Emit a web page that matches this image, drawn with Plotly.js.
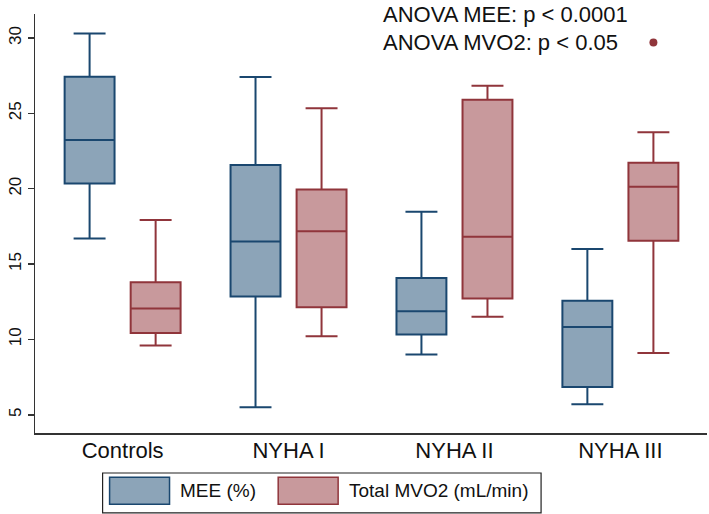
<!DOCTYPE html>
<html>
<head>
<meta charset="utf-8">
<script src="https://cdn.plot.ly/plotly-3.0.1.min.js"></script>
<style>html,body{margin:0;padding:0;background:#fff;}#chart{width:709px;height:514px;}</style>
</head>
<body>
<div id="chart"></div>
<script>
// Categories
var categories = ["Controls", "NYHA I", "NYHA II", "NYHA III"];
var seriesNames = ["MEE (%)", "Total MVO2 (mL/min)"];

// MEE (%) box statistics
var meeLower  = [16.7, 5.5, 9.0, 5.7];
var meeQ1     = [20.35, 12.85, 10.32, 6.85];
var meeMedian = [23.23, 16.5, 11.87, 10.83];
var meeQ3     = [27.43, 21.57, 14.08, 12.56];
var meeUpper  = [30.3, 27.41, 18.47, 15.99];

// Total MVO2 (mL/min) box statistics
var mvoLower  = [9.6, 10.21, 11.5, 9.1];
var mvoQ1     = [10.43, 12.14, 12.72, 16.54];
var mvoMedian = [12.05, 17.18, 16.81, 20.13];
var mvoQ3     = [13.8, 19.95, 25.9, 21.72];
var mvoUpper  = [17.92, 25.33, 26.83, 23.74];
// outside values (outliers) per category
var mvoOutliers = [[], [], [], [29.7]];

var yTicks = [5, 10, 15, 20, 25, 30];

var annotationTexts = ["ANOVA MEE: p < 0.0001", "ANOVA MVO2: p < 0.05"];

var blueLine = "#1A476F", blueFill = "#8CA4B8";
var redLine = "#90353B", redFill = "#C8999C";

// sample points per box: the median plus any outside values (only outside values are drawn)
var mvoSamples = mvoMedian.map(function (m, i) { return [m].concat(mvoOutliers[i]); });

var traces = [
  {
    type: "box", name: seriesNames[0], x: categories,
    lowerfence: meeLower, q1: meeQ1, median: meeMedian, q3: meeQ3, upperfence: meeUpper,
    fillcolor: blueFill, line: {color: blueLine, width: 2}, whiskerwidth: 0.64,
    boxpoints: false, showlegend: false, hoverinfo: "skip"
  },
  {
    type: "box", name: seriesNames[1], x: categories, y: mvoSamples,
    lowerfence: mvoLower, q1: mvoQ1, median: mvoMedian, q3: mvoQ3, upperfence: mvoUpper,
    fillcolor: redFill, line: {color: redLine, width: 2}, whiskerwidth: 0.64,
    boxpoints: "outliers", jitter: 0, pointpos: 0,
    marker: {color: redLine, size: 8, line: {width: 0}, outliercolor: redLine},
    showlegend: false, hoverinfo: "skip"
  }
];

var L = 35, R = 2, T = 14, B = 81;
var annotations = [
  {xref: "paper", yref: "paper", x: 0.515, y: 0.998, xanchor: "left", yanchor: "middle",
   text: annotationTexts[0], showarrow: false, font: {size: 22, color: "#111"}},
  {xref: "paper", yref: "paper", x: 0.515, y: 0.931, xanchor: "left", yanchor: "middle",
   text: annotationTexts[1], showarrow: false, font: {size: 22, color: "#111"}},
  {xref: "paper", yref: "paper", x: 0.2131, y: -0.138, xanchor: "left", yanchor: "middle",
   text: seriesNames[0], showarrow: false, font: {size: 19, color: "#111"}},
  {xref: "paper", yref: "paper", x: 0.4645, y: -0.138, xanchor: "left", yanchor: "middle",
   text: seriesNames[1], showarrow: false, font: {size: 19, color: "#111"}}
];

var shapes = [
  {type: "rect", xref: "paper", yref: "paper", x0: 0.1006, x1: 0.7531, y0: -0.1906, y1: -0.0955,
   line: {color: "#222", width: 1.2}, fillcolor: "rgba(0,0,0,0)"},
  {type: "rect", xref: "paper", yref: "paper", x0: 0.111, x1: 0.2002, y0: -0.1703, y1: -0.1058,
   line: {color: blueLine, width: 1.5}, fillcolor: blueFill},
  {type: "rect", xref: "paper", yref: "paper", x0: 0.3619, x1: 0.4511, y0: -0.1703, y1: -0.1058,
   line: {color: redLine, width: 1.5}, fillcolor: redFill}
];

var layout = {
  width: 709, height: 514,
  margin: {l: L, r: R, t: T, b: B, pad: 0},
  paper_bgcolor: "#fff", plot_bgcolor: "#fff",
  font: {family: "Liberation Sans, Arial, Helvetica, sans-serif", color: "#111"},
  boxmode: "group", boxgap: 0.204, boxgroupgap: 0.244,
  showlegend: false,
  xaxis: {
    type: "category", range: [-0.528, 3.522], showgrid: false, zeroline: false,
    showline: true, linecolor: "#333", linewidth: 1.5, ticks: "",
    ticklabelstandoff: -3,
    tickfont: {size: 22, color: "#111"}, fixedrange: true
  },
  yaxis: {
    range: [3.79, 31.59], tickvals: yTicks, ticktext: yTicks.map(String),
    showgrid: false, zeroline: false, showline: true, linecolor: "#333", linewidth: 1.5,
    ticks: "outside", ticklen: 6, tickwidth: 1.5, tickcolor: "#333",
    tickangle: -90, tickfont: {size: 17, color: "#111"}, fixedrange: true
  },
  annotations: annotations,
  shapes: shapes
};

Plotly.newPlot("chart", traces, layout, {displayModeBar: false, staticPlot: true});
</script>
</body>
</html>
